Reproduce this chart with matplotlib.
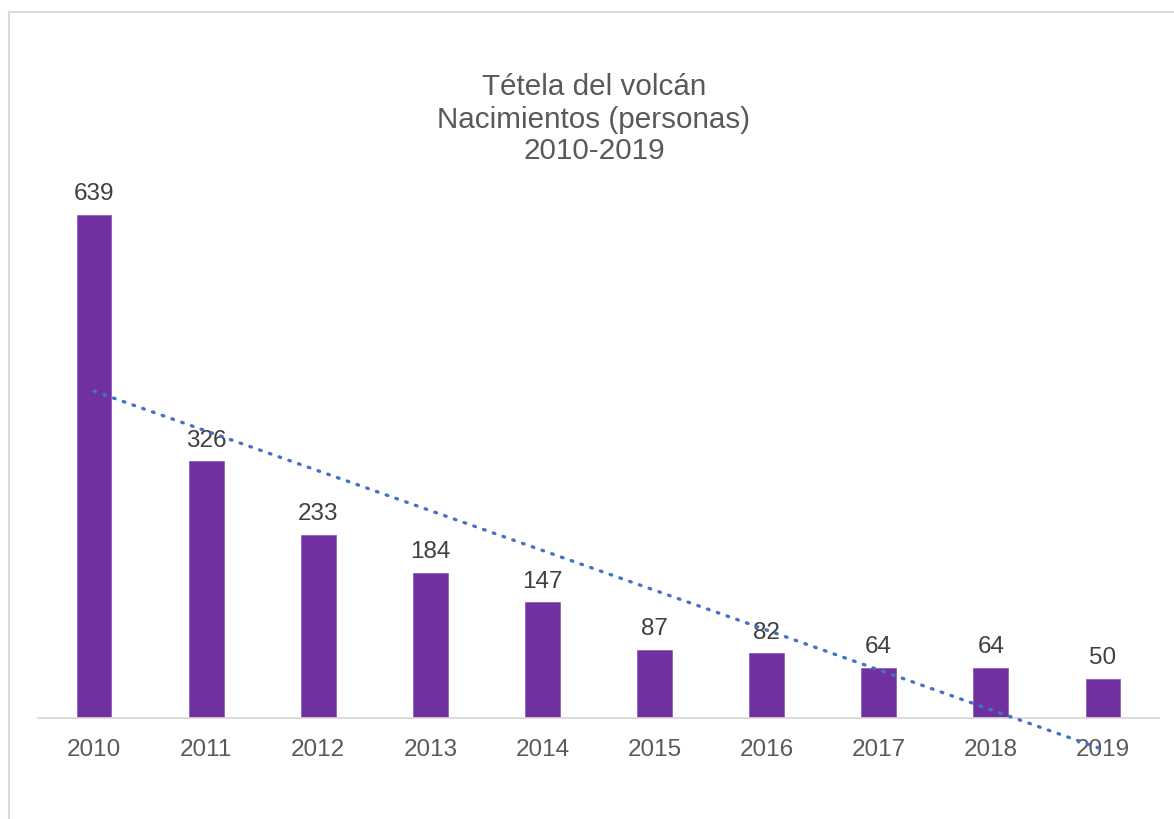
import numpy as np
import matplotlib
matplotlib.use("Agg")
import matplotlib.pyplot as plt
from matplotlib.patches import Rectangle

plt.rcParams["font.family"] = ["Liberation Sans", "DejaVu Sans"]

years = ["2010", "2011", "2012", "2013", "2014", "2015", "2016", "2017", "2018", "2019"]
births = [639, 326, 233, 184, 147, 87, 82, 64, 64, 50]
title_lines = ["Tétela del volcán", "Nacimientos (personas)", "2010-2019"]

fig = plt.figure(figsize=(11.74, 8.19), dpi=100)
ax = fig.add_axes([38 / 1174, 101 / 819, 1121 / 1174, 551 / 819])

x = np.arange(len(years))
ax.bar(x, births, width=0.31, color="#7030A0", edgecolor="#8f5fba", linewidth=0.6, zorder=2)

# value labels above each bar
for xi, v in zip(x, births):
    ax.annotate(str(v), (xi, v), xytext=(0, 7), textcoords="offset points",
                ha="center", va="bottom", fontsize=17.5, color="#404040")

# linear trendline (like Excel)
slope, intercept = np.polyfit(x + 1, births, 1)
trend = slope * (x + 1) + intercept
ax.plot(x, trend, color="#4472C4", linewidth=2.4, linestyle=(0, (0.5, 2.6)),
        dash_capstyle="round", clip_on=False, zorder=3)

ax.set_xlim(-0.5, len(years) - 0.5)
ax.set_ylim(0, 700)
ax.set_xticks(x)
ax.set_xticklabels(years, fontsize=17.5, color="#595959")
ax.tick_params(axis="x", length=0, pad=15)
ax.set_yticks([])
for side in ["top", "right", "left"]:
    ax.spines[side].set_visible(False)
ax.spines["bottom"].set_color("#d9d9d9")
ax.spines["bottom"].set_linewidth(1.3)

# title, one text per line
for line, ypix in zip(title_lines, [87, 120, 151]):
    fig.text(594 / 1174, 1 - ypix / 819, line, ha="center", va="center",
             fontsize=21.3, color="#595959")

# chart frame
fig.patches.append(Rectangle((9 / 1174, -0.2), 2, (1 - 12 / 819) + 0.2,
                             transform=fig.transFigure, fill=False,
                             edgecolor="#d9d9d9", linewidth=1.5))

fig.savefig("out.png", dpi=100, facecolor="white")
